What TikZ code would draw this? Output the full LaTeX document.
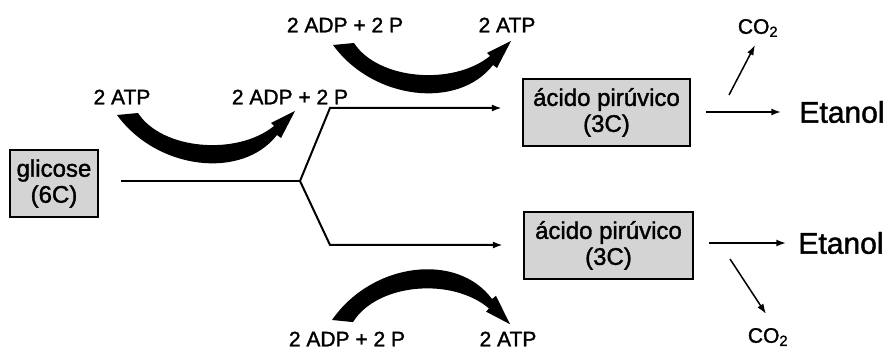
\documentclass[tikz,border=0pt]{standalone}
\usepackage{fontspec}
\setmainfont{Liberation Sans}[FakeBold=1.5]
\usetikzlibrary{arrows.meta}

\tikzset{
	fatarrow/.pic={
		\fill (0,0) .. controls (40,55) and (125,65) .. (160,20)
			-- (164,23) -- (178,-4) -- (154,8) -- (157,11)
			.. controls (120,41) and (45,35) .. (21,-2) -- cycle;
	}
}

\begin{document}
\begin{tikzpicture}[x=1pt, y=-1pt,
	box/.style = {draw, line width=2.2pt, fill=black!17, align=center,
		font=\fontsize{24}{26}\selectfont, inner sep=0pt, minimum height=67pt},
	lbl/.style = {font=\fontsize{21}{24}\selectfont, inner sep=1pt},
	prod/.style = {font=\fontsize{30}{32}\selectfont, inner sep=0pt},
	gas/.style = {font=\fontsize{21}{24}\selectfont, inner sep=0pt},
	flow/.style = {line width=2pt, -{Latex[length=10pt,width=7pt]}}]
	\useasboundingbox (0,0) rectangle (888,352);

	\node[box, minimum width=88pt] (glic) at (54,183.5) {glicose\\(6C)};
	\node[box, minimum width=167pt] (pirA) at (606.5,112.5) {ácido pirúvico\\(3C)};
	\node[box, minimum width=169pt] (pirB) at (608.5,245.5) {ácido pirúvico\\(3C)};

	\node[prod] (etA) at (842,112) {Etanol};
	\node[prod] (etB) at (841,243) {Etanol};
	\node[gas] (co2A) at (758,28) {CO\textsubscript{2}};
	\node[gas] (co2B) at (768,337) {CO\textsubscript{2}};

	\node[lbl] (atpA) at (122,97) {2 ATP};
	\node[lbl] (adpA) at (290,97) {2 ADP + 2 P};
	\node[lbl] (adpB) at (345,25) {2 ADP + 2 P};
	\node[lbl] (atpB) at (507,25) {2 ATP};
	\node[lbl] (adpC) at (347,339) {2 ADP + 2 P};
	\node[lbl] (atpC) at (508,339) {2 ATP};

	% split of the glucose
	\coordinate (split) at (300,181);
	\coordinate (bendA) at (330,108);
	\coordinate (bendB) at (330,245);
	\draw[line width=2pt] ([xshift=22pt]glic.east |- split) -- (split);
	\draw[flow] (split) -- (bendA) -- ([xshift=-20pt]pirA.west |- bendA);
	\draw[flow] (split) -- (bendB) -- ([xshift=-20pt]pirB.west |- bendB);

	% fermentation
	\draw[flow] ([xshift=15pt]pirA.east |- etA) -- ([xshift=-18pt]etA.west);
	\draw[flow] ([xshift=15pt]pirB.east |- etB) -- ([xshift=-12pt]etB.west);
	\coordinate (forkA) at (729,95);
	\coordinate (forkB) at (730,259);
	\draw[flow, line width=1.5pt] (forkA) -- ([shift={(-3pt,-8pt)}]co2A.south);
	\draw[flow, line width=1.5pt] (forkB) -- ([shift={(-2pt,14pt)}]co2B.north);

	% energy
	\pic at (117,115) {fatarrow};
	\pic at (333,45) {fatarrow};
	\pic[yscale=-1.05] at (332,320) {fatarrow};
\end{tikzpicture}
\end{document}
